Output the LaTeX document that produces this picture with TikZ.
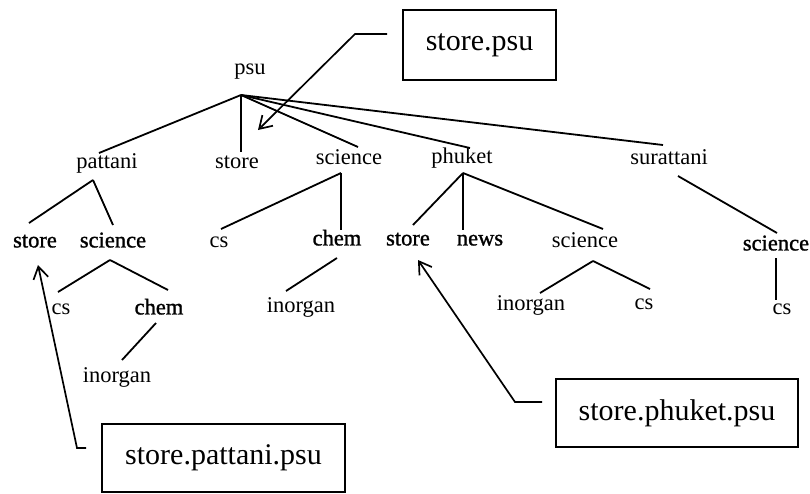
\documentclass[tikz,border=0pt]{standalone}
\usepackage{fontspec}
\setmainfont{Liberation Serif}
\newfontfamily\heavyserif[FakeBold=1.2]{Liberation Serif}
\usetikzlibrary{calc,arrows.meta}
\tikzset{
  lbl/.style={inner sep=0pt, text height=0.68em, text depth=0.2em, font=\fontsize{22.5}{27}\selectfont},
  lblb/.style={lbl, font=\fontsize{22.5}{27}\selectfont\heavyserif},
  edge/.style={line width=1.8pt},
  tag/.style={draw, line width=1.6pt, inner sep=0pt, font=\fontsize{30}{36}\selectfont},
  pointer/.style={line width=1.7pt, -{Straight Barb[length=12pt,width=15pt,line width=1.7pt]}}
}
\begin{document}
\begin{tikzpicture}[x=1pt,y=-1pt]
\useasboundingbox (0,0) rectangle (810,493);
% nodes
\node[lbl] (psu) at (250,72) {psu};
\node[lbl] (pattani) at (107,166) {pattani};
\node[lbl] (storeA) at (237,166) {store};
\node[lbl] (sciA) at (349,162) {science};
\node[lbl] (phuket) at (462,161) {phuket};
\node[lbl] (surattani) at (669,162) {surattani};
\node[lblb] (storeP) at (35,245) {store};
\node[lblb] (sciP) at (113,245) {science};
\node[lbl] (csS) at (219,245) {cs};
\node[lblb] (chemS) at (337,243) {chem};
\node[lblb] (storeK) at (408,243) {store};
\node[lblb] (newsK) at (480,243) {news};
\node[lbl] (sciK) at (585,245) {science};
\node[lblb] (sciR) at (776,248) {science};
\node[lbl] (csP) at (61,312) {cs};
\node[lblb] (chemP) at (159,312) {chem};
\node[lbl] (inorgS) at (301,310) {inorgan};
\node[lbl] (inorgK) at (531,308) {inorgan};
\node[lbl] (csK) at (644,307) {cs};
\node[lbl] (csR) at (782,312) {cs};
\node[lbl] (inorgP) at (117,380) {inorgan};
% tree edges
\draw[edge] ($(psu)+(-9,23)$) -- ($(pattani)+(-8,-13)$);
\draw[edge] ($(psu)+(-9,23)$) -- ($(storeA)+(4,-14)$);
\draw[edge] ($(psu)+(-9,23)$) -- ($(sciA)+(9,-15)$);
\draw[edge] ($(psu)+(-9,23)$) -- ($(phuket)+(8,-13)$);
\draw[edge] ($(psu)+(-9,23)$) -- ($(surattani)+(-6,-17)$);
\draw[edge] ($(pattani)+(-14,14)$) -- ($(storeP)+(-6,-22)$);
\draw[edge] ($(pattani)+(-14,14)$) -- ($(sciP)+(0,-20)$);
\draw[edge] ($(sciA)+(-8,11)$) -- ($(csS)+(2,-16)$);
\draw[edge] ($(sciA)+(-8,11)$) -- ($(chemS)+(4,-13)$);
\draw[edge] ($(phuket)+(1,12)$) -- ($(storeK)+(5,-18)$);
\draw[edge] ($(phuket)+(1,12)$) -- ($(newsK)+(-17,-13)$);
\draw[edge] ($(phuket)+(1,12)$) -- ($(sciK)+(18,-16)$);
\draw[edge] ($(surattani)+(9,14)$) -- ($(sciR)+(1,-15)$);
\draw[edge] ($(sciP)+(-3,15)$) -- ($(csP)+(-3,-20)$);
\draw[edge] ($(sciP)+(-3,15)$) -- ($(chemP)+(9,-22)$);
\draw[edge] ($(chemS)+(0,15)$) -- ($(inorgS)+(-15,-19)$);
\draw[edge] ($(sciK)+(8,16)$) -- ($(inorgK)+(9,-15)$);
\draw[edge] ($(sciK)+(8,16)$) -- ($(csK)+(6,-18)$);
\draw[edge] ($(sciR)+(0,10)$) -- ($(csR)+(-6,-12)$);
\draw[edge] ($(chemP)+(-3,11)$) -- ($(inorgP)+(5,-20)$);
% tag boxes
\node[tag, minimum width=153pt, minimum height=70pt] (tagPsu) at (479.5,45) {store.psu};
\node[tag, minimum width=242pt, minimum height=68pt] (tagPhuket) at (677,413) {store.phuket.psu};
\node[tag, minimum width=243pt, minimum height=68pt] (tagPattani) at (223.5,458) {store.pattani.psu};
% pointers
\coordinate (bendPsu) at (355,34);
\coordinate (bendPhuket) at (515,402);
\coordinate (bendPattani) at (77,448);
\draw[pointer] ($(tagPsu.west)+(-15,-11)$) -- (bendPsu) -- ($(storeA)+(21,-36)$);
\draw[pointer] ($(tagPhuket.west)+(-13,-11)$) -- (bendPhuket) -- ($(storeK)+(10,17)$);
\draw[pointer] ($(tagPattani.west)+(-15,-10)$) -- (bendPattani) -- ($(storeP)+(3,20)$);
\end{tikzpicture}
\end{document}
